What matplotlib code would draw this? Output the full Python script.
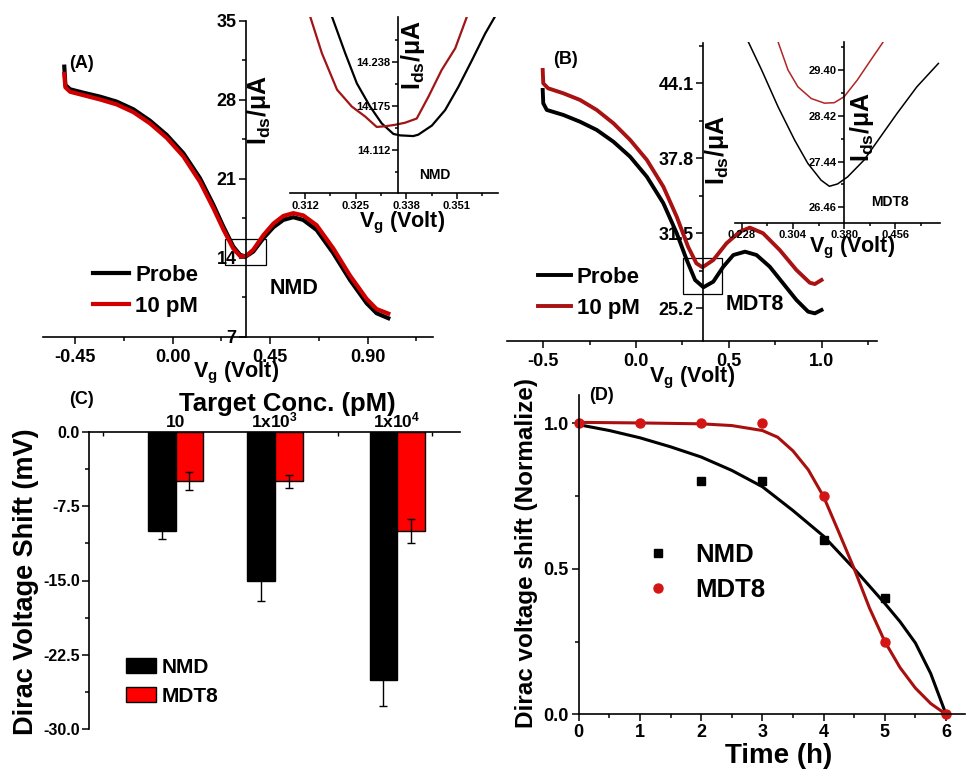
import matplotlib
matplotlib.use("Agg")
import matplotlib.pyplot as plt
from matplotlib.ticker import MultipleLocator, FixedLocator, FormatStrFormatter
from matplotlib.patches import Rectangle

plt.rcParams['font.family'] = ['Liberation Sans', 'DejaVu Sans']
plt.rcParams['font.weight'] = 'bold'
plt.rcParams['mathtext.fontset'] = 'custom'
plt.rcParams['mathtext.rm'] = 'Liberation Sans:bold'
plt.rcParams['mathtext.it'] = 'Liberation Sans:bold'
plt.rcParams['mathtext.bf'] = 'Liberation Sans:bold'
plt.rcParams['mathtext.default'] = 'regular'
plt.rcParams['axes.linewidth'] = 1.2

# ---- panel A: NMD transfer curves ----
a_vg = [-0.501, -0.496, -0.474, -0.413, -0.336, -0.259, -0.182, -0.105, -0.028, 0.049,
        0.126, 0.188, 0.234, 0.280, 0.311, 0.337, 0.372, 0.419, 0.465, 0.511,
        0.557, 0.603, 0.665, 0.742, 0.819, 0.896, 0.942, 0.996]
a_probe = [30.93, 29.30, 28.92, 28.62, 28.27, 27.83, 27.15, 26.14, 24.88, 23.26,
           21.04, 18.68, 16.75, 14.98, 14.25, 14.10, 14.54, 15.73, 16.70, 17.35,
           17.59, 17.35, 16.46, 14.40, 12.03, 9.97, 9.08, 8.64]
a_10pm = [30.28, 29.10, 28.70, 28.40, 28.02, 27.58, 26.90, 25.90, 24.62, 22.98,
          20.72, 18.38, 16.50, 14.80, 14.15, 14.12, 14.70, 16.00, 17.02, 17.70,
          17.95, 17.75, 16.88, 14.82, 12.42, 10.35, 9.45, 9.05]
a_box = (0.242, 0.431, 13.36, 15.64)

# inset A (zoom near Dirac point)
ia_vg_probe = [0.3189, 0.3223, 0.3253, 0.3287, 0.3317, 0.3347, 0.3364, 0.3398, 0.3411,
               0.3446, 0.3480, 0.3514, 0.3549, 0.3583, 0.3608]
ia_probe = [14.302, 14.250, 14.207, 14.174, 14.150, 14.135, 14.133, 14.132, 14.134,
            14.147, 14.169, 14.202, 14.240, 14.278, 14.302]
ia_vg_10pm = [0.3133, 0.3163, 0.3202, 0.3240, 0.3274, 0.3304, 0.3326, 0.3351, 0.3377,
              0.3407, 0.3437, 0.3471, 0.3506, 0.3536]
ia_10pm = [14.302, 14.250, 14.198, 14.174, 14.160, 14.145, 14.146, 14.148, 14.151,
           14.157, 14.188, 14.226, 14.257, 14.302]

# ---- panel B: MDT8 transfer curves ----
b_vg = [-0.503, -0.500, -0.481, -0.392, -0.302, -0.212, -0.122, -0.032, 0.058, 0.147,
        0.219, 0.273, 0.318, 0.363, 0.416, 0.470, 0.524, 0.587, 0.649, 0.720,
        0.792, 0.864, 0.927, 0.963, 0.999]
b_probe = [43.54, 42.42, 41.86, 41.44, 40.87, 40.18, 39.19, 37.93, 36.25, 34.02,
           31.50, 29.25, 27.57, 26.96, 27.43, 28.69, 29.67, 29.95, 29.67, 28.69,
           27.29, 25.89, 24.91, 24.77, 25.05]
b_vg2 = [-0.503, -0.500, -0.474, -0.392, -0.302, -0.212, -0.122, -0.032, 0.058, 0.147,
         0.219, 0.280, 0.325, 0.358, 0.416, 0.487, 0.559, 0.613, 0.684, 0.774,
         0.864, 0.936, 0.963, 0.999]
b_10pm = [45.22, 44.10, 43.68, 43.26, 42.70, 41.86, 40.74, 39.34, 37.66, 35.41,
          32.89, 30.37, 28.97, 28.64, 29.25, 30.65, 31.63, 31.97, 31.50, 30.09,
          28.41, 27.34, 27.23, 27.57]
b_box = (0.251, 0.465, 26.39, 29.39)

ib_vg_probe = [0.2378, 0.2575, 0.2819, 0.3064, 0.3260, 0.3457, 0.3579, 0.3701, 0.3849,
               0.4093, 0.4338, 0.4583, 0.4877, 0.5196]
ib_probe = [30.00, 29.40, 28.61, 27.90, 27.40, 27.04, 26.91, 26.96, 27.11, 27.47,
            27.97, 28.47, 29.04, 29.54]
ib_vg_10pm = [0.2819, 0.2966, 0.3113, 0.3310, 0.3506, 0.3652, 0.3800, 0.3996, 0.4192, 0.4377]
ib_10pm = [30.00, 29.40, 29.04, 28.79, 28.69, 28.70, 28.83, 29.19, 29.61, 30.00]

# ---- panel C: Dirac voltage shift bars ----
conc_labels = ['10', '1x10$^3$', '1x10$^4$']
conc_pos = [0.0, 1.0, 2.23]
shift_nmd = [-10.0, -15.0, -25.0]
err_nmd = [0.8, 2.1, 2.7]
shift_mdt8 = [-5.0, -5.0, -10.0]
err_mdt8 = [0.9, 0.67, 1.2]

# ---- panel D: stability over time ----
t_nmd = [2, 3, 4, 5]
v_nmd = [0.8, 0.8, 0.6, 0.4]
t_mdt8 = [0, 1, 2, 3, 4, 5, 6]
v_mdt8 = [1.0, 1.0, 1.0, 1.0, 0.75, 0.25, 0.0]
fit_t_nmd = [0, 0.5, 1, 1.5, 2, 2.5, 3, 3.5, 4, 4.5, 5, 5.25, 5.5, 5.75, 6]
fit_nmd = [0.995, 0.975, 0.950, 0.919, 0.884, 0.838, 0.782, 0.700, 0.612, 0.500, 0.381,
           0.318, 0.245, 0.140, 0.0]
fit_t_mdt8 = [0, 1, 2, 2.5, 3, 3.25, 3.5, 3.75, 4, 4.25, 4.5, 4.75, 5, 5.25, 5.5, 5.75, 6]
fit_mdt8 = [1.003, 1.001, 0.998, 0.992, 0.975, 0.952, 0.905, 0.840, 0.748, 0.625, 0.500,
            0.365, 0.250, 0.160, 0.090, 0.037, 0.0]

W, H = 966, 770
fig = plt.figure(figsize=(W / 100, H / 100), dpi=100)


def rect(x0, y0, x1, y1):
    return [x0 / W, 1 - y1 / H, (x1 - x0) / W, (y1 - y0) / H]


def ftext(x, y, s, **kw):
    fig.text(x / W, 1 - y / H, s, ha=kw.pop('ha', 'center'), va=kw.pop('va', 'center'), **kw)


def cross_axes(ax, xcross, size, major=5, minor=3):
    ax.spines['top'].set_visible(False)
    ax.spines['right'].set_visible(False)
    ax.spines['left'].set_position(('data', xcross))
    ax.tick_params(which='both', direction='out', labelsize=size, width=1.1, pad=1.5)
    ax.tick_params(which='major', length=major)
    ax.tick_params(which='minor', length=minor)
    ax.patch.set_alpha(0)


RED_A = '#d00000'
RED_B = '#a81212'

# panel A
axA = fig.add_axes(rect(43.3, 20.7, 433.3, 336.7))
lA1, = axA.plot(a_vg, a_probe, color='black', lw=3, label='Probe')
lA2, = axA.plot(a_vg, a_10pm, color=RED_A, lw=3, label='10 pM')
axA.add_patch(Rectangle((a_box[0], a_box[2]), a_box[1] - a_box[0], a_box[3] - a_box[2],
                        fill=False, lw=0.9, color='black'))
axA.set_xlim(-0.598, 1.204)
axA.set_ylim(7, 35)
cross_axes(axA, 0.337, 13)
axA.xaxis.set_major_locator(MultipleLocator(0.45))
axA.xaxis.set_minor_locator(MultipleLocator(0.225))
axA.xaxis.set_major_formatter(FormatStrFormatter('%.2f'))
axA.yaxis.set_major_locator(MultipleLocator(7))
axA.yaxis.set_minor_locator(MultipleLocator(3.5))
axA.tick_params(axis='x', pad=4)
axA.legend(handles=[lA1, lA2], loc='upper left', bbox_to_anchor=(93 / W, 1 - 265 / H),
           bbox_transform=fig.transFigure, frameon=False, borderpad=0, borderaxespad=0,
           handlelength=1.6, handletextpad=0.3, labelspacing=0.43, fontsize=16)

# inset A
iaA = fig.add_axes(rect(290, 16.7, 498, 193.3))
iaA.plot(ia_vg_probe, ia_probe, color='black', lw=1.6)
iaA.plot(ia_vg_10pm, ia_10pm, color='#a01515', lw=1.6)
iaA.set_xlim(0.3081, 0.3616)
iaA.set_ylim(14.0505, 14.302)
cross_axes(iaA, 0.3359, 8, major=4, minor=2.5)
iaA.xaxis.set_major_locator(FixedLocator([0.312, 0.325, 0.338, 0.351]))
iaA.xaxis.set_minor_locator(FixedLocator([0.3185, 0.3315, 0.3445, 0.3575]))
iaA.xaxis.set_major_formatter(FormatStrFormatter('%.3f'))
iaA.yaxis.set_major_locator(FixedLocator([14.112, 14.175, 14.238]))
iaA.yaxis.set_minor_locator(FixedLocator([14.0805, 14.1435, 14.2065, 14.2695]))
iaA.yaxis.set_major_formatter(FormatStrFormatter('%.3f'))

# panel B
axB = fig.add_axes(rect(506.7, 43.3, 877, 340.7))
lB1, = axB.plot(b_vg, b_probe, color='black', lw=2.8, label='Probe')
lB2, = axB.plot(b_vg2, b_10pm, color=RED_B, lw=2.8, label='10 pM')
axB.add_patch(Rectangle((b_box[0], b_box[2]), b_box[1] - b_box[0], b_box[3] - b_box[2],
                        fill=False, lw=0.9, color='black'))
axB.set_xlim(-0.697, 1.298)
axB.set_ylim(22.47, 47.46)
cross_axes(axB, 0.359, 13)
axB.xaxis.set_major_locator(MultipleLocator(0.5))
axB.xaxis.set_minor_locator(MultipleLocator(0.25))
axB.xaxis.set_major_formatter(FormatStrFormatter('%.1f'))
axB.yaxis.set_major_locator(FixedLocator([25.2, 31.5, 37.8, 44.1]))
axB.yaxis.set_minor_locator(FixedLocator([28.35, 34.65, 40.95, 47.25]))
axB.yaxis.set_major_formatter(FormatStrFormatter('%.1f'))
axB.tick_params(axis='x', pad=4)
axB.legend(handles=[lB1, lB2], loc='upper left', bbox_to_anchor=(538 / W, 1 - 267 / H),
           bbox_transform=fig.transFigure, frameon=False, borderpad=0, borderaxespad=0,
           handlelength=1.5, handletextpad=0.25, labelspacing=0.43, fontsize=16)

# inset B
iaB = fig.add_axes(rect(735, 41.7, 940, 222.7))
iaB.plot(ib_vg_probe, ib_probe, color='black', lw=1.1)
iaB.plot(ib_vg_10pm, ib_10pm, color='#b02525', lw=1.1)
iaB.set_xlim(0.218, 0.522)
iaB.set_ylim(26.13, 30.006)
cross_axes(iaB, 0.380, 8, major=4, minor=2.5)
iaB.xaxis.set_major_locator(FixedLocator([0.228, 0.304, 0.380, 0.456]))
iaB.xaxis.set_minor_locator(FixedLocator([0.266, 0.342, 0.418, 0.494]))
iaB.xaxis.set_major_formatter(FormatStrFormatter('%.3f'))
iaB.yaxis.set_major_locator(FixedLocator([26.46, 27.44, 28.42, 29.40]))
iaB.yaxis.set_minor_locator(FixedLocator([26.95, 27.93, 28.91, 29.89]))
iaB.yaxis.set_major_formatter(FormatStrFormatter('%.2f'))

# panel C
axC = fig.add_axes(rect(89, 431.7, 460, 729.3))
bw = 0.277
ekw = dict(ecolor='black', elinewidth=1, capsize=3, capthick=1)
axC.bar([p - bw / 2 for p in conc_pos], shift_nmd, bw, yerr=err_nmd, color='black',
        edgecolor='black', lw=1, error_kw=ekw, label='NMD')
axC.bar([p + bw / 2 for p in conc_pos], shift_mdt8, bw, yerr=err_mdt8, color='#ff0000',
        edgecolor='black', lw=1, error_kw=ekw, label='MDT8')
axC.set_xlim(-0.873, 2.863)
axC.set_ylim(-30, 0)
axC.spines['bottom'].set_visible(False)
axC.spines['right'].set_visible(False)
axC.xaxis.tick_top()
axC.set_xticks(conc_pos)
axC.set_xticklabels(conc_labels, fontsize=12.5)
axC.xaxis.set_minor_locator(FixedLocator([-0.732, 1.634, 2.581]))
axC.tick_params(axis='x', which='major', length=0, pad=1)
axC.tick_params(axis='x', which='minor', direction='in', length=3, width=1)
axC.yaxis.set_major_locator(MultipleLocator(7.5))
axC.yaxis.set_minor_locator(MultipleLocator(3.75))
axC.yaxis.set_major_formatter(FormatStrFormatter('%.1f'))
axC.tick_params(axis='y', which='both', direction='out', labelsize=11.5, width=1.1, pad=1.5)
axC.tick_params(axis='y', which='major', length=5)
axC.tick_params(axis='y', which='minor', length=3)
axC.legend(loc='upper left', bbox_to_anchor=(126 / W, 1 - 658 / H),
           bbox_transform=fig.transFigure, frameon=False, borderpad=0, borderaxespad=0,
           handlelength=1.45, handleheight=0.72, handletextpad=0.25, labelspacing=0.47,
           fontsize=15)

# panel D
axD = fig.add_axes(rect(578.7, 395, 965, 714.3))
axD.plot(fit_t_nmd, fit_nmd, color='black', lw=2.2)
axD.plot(fit_t_mdt8, fit_mdt8, color='#a81010', lw=2.2)
axD.plot(t_nmd, v_nmd, 's', color='black', ms=5.5, label='NMD', clip_on=False)
axD.plot(t_mdt8, v_mdt8, 'o', color='#d41515', ms=6.5, label='MDT8', clip_on=False)
axD.set_xlim(0, 6.31)
axD.set_ylim(0, 1.097)
axD.spines['top'].set_visible(False)
axD.spines['right'].set_visible(False)
axD.xaxis.set_major_locator(MultipleLocator(1))
axD.xaxis.set_minor_locator(MultipleLocator(0.5))
axD.yaxis.set_major_locator(MultipleLocator(0.5))
axD.yaxis.set_minor_locator(MultipleLocator(0.25))
axD.yaxis.set_major_formatter(FormatStrFormatter('%.1f'))
axD.tick_params(which='both', direction='out', labelsize=13, width=1.1, pad=2)
axD.tick_params(which='major', length=5)
axD.tick_params(which='minor', length=3)
axD.legend(loc='upper left', bbox_to_anchor=(646 / W, 1 - 543 / H),
           bbox_transform=fig.transFigure, frameon=False, borderpad=0, borderaxespad=0,
           handlelength=0.9, handletextpad=1.0, labelspacing=0.43, fontsize=18.5)

# labels and annotations
ftext(82, 63, '(A)', fontsize=13)
ftext(566, 59, '(B)', fontsize=13)
ftext(82, 400, '(C)', fontsize=13)
ftext(602, 396, '(D)', fontsize=13)

ftext(259, 110, 'I$_{ds}$/μA', fontsize=18, rotation=90)
ftext(413, 55, 'I$_{ds}$/μA', fontsize=18, rotation=90)
ftext(717, 150, 'I$_{ds}$/μA', fontsize=18, rotation=90)
ftext(862, 127, 'I$_{ds}$/μA', fontsize=18, rotation=90)

ftext(236, 373, 'V$_g$ (Volt)', fontsize=15.5)
ftext(402, 223, 'V$_g$ (Volt)', fontsize=15.5)
ftext(692, 378, 'V$_g$ (Volt)', fontsize=15.5)
ftext(852, 248, 'V$_g$ (Volt)', fontsize=15.5)

ftext(294, 288, 'NMD', fontsize=15.5)
ftext(755, 305, 'MDT8', fontsize=15.5)
ftext(435, 175, 'NMD', fontsize=10)
ftext(890, 202, 'MDT8', fontsize=10)

ftext(287, 404, 'Target Conc. (pM)', fontsize=18.5)
ftext(26, 582, 'Dirac Voltage Shift (mV)', fontsize=19.5, rotation=90)
ftext(527, 553, 'Dirac voltage shift (Normalize)', fontsize=17.5, rotation=90)
ftext(779, 756, 'Time (h)', fontsize=20)

fig.savefig('out.png', dpi=100)
